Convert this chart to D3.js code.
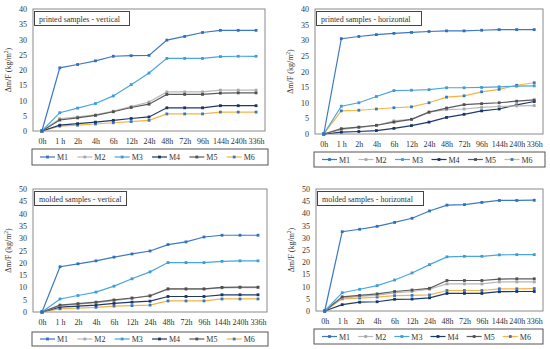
<!DOCTYPE html>
<html>
<head>
<meta charset="utf-8">
<script src="https://cdn.jsdelivr.net/npm/d3@7"></script>
<style>
  body { margin: 0; background: #fff; }
  text { font-family: "Liberation Serif", "DejaVu Serif", serif; fill: #333; }
</style>
</head>
<body>
<script>
// time points and series names
var hours = ["0h", "1 h", "2h", "4h", "6h", "12h", "24h", "48h", "72h", "96h", "144h", "240h", "336h"];
var seriesNames = ["M1", "M2", "M3", "M4", "M5", "M6"];
var lineColors = ["#3b78c6", "#b8b8b8", "#4aa6de", "#1d3a6e", "#5b5b5b", "#f6b244"];
var markerColors = ["#2f6fc0", "#a8a8a8", "#3d9cd8", "#1a3466", "#4f4f4f", "#2f79c8"];

// values, one row per series M1..M6
var printedVertical = [
  [0, 20.7, 21.8, 23.0, 24.5, 24.7, 24.8, 29.8, 31.0, 32.3, 33.0, 33.0, 33.0],
  [0, 4.0, 4.6, 5.3, 6.5, 8.0, 9.5, 12.8, 12.8, 12.8, 13.4, 13.4, 13.4],
  [0, 6.0, 7.5, 9.0, 11.5, 15.2, 19.0, 23.8, 23.8, 23.8, 24.4, 24.5, 24.5],
  [0, 1.9, 2.4, 2.9, 3.5, 4.1, 4.6, 7.6, 7.6, 7.6, 8.3, 8.3, 8.3],
  [0, 3.6, 4.3, 5.1, 6.3, 7.7, 8.8, 12.0, 12.0, 12.0, 12.4, 12.5, 12.5],
  [0, 1.6, 1.9, 2.3, 2.7, 3.1, 3.5, 5.6, 5.6, 5.6, 6.2, 6.2, 6.2]
];
var printedHorizontal = [
  [0, 30.5, 31.2, 31.8, 32.2, 32.5, 32.8, 33.0, 33.0, 33.2, 33.4, 33.4, 33.4],
  [0, 1.4, 2.1, 2.7, 4.2, 4.7, 7.0, 7.8, 8.0, 8.5, 8.8, 9.0, 9.1],
  [0, 8.9, 10.0, 12.0, 13.9, 14.0, 14.2, 14.8, 14.8, 14.9, 15.1, 15.3, 15.4],
  [0, 0.6, 0.8, 1.1, 1.8, 2.7, 3.8, 5.3, 6.3, 7.4, 8.0, 9.3, 10.4],
  [0, 1.7, 2.2, 2.8, 3.8, 4.7, 7.0, 8.3, 9.4, 9.7, 10.0, 10.5, 10.9],
  [0, 7.4, 7.6, 8.0, 8.4, 8.7, 10.0, 11.8, 12.2, 13.5, 14.3, 15.6, 16.4]
];
var moldedVertical = [
  [0, 18.4, 19.6, 20.8, 22.3, 23.6, 24.8, 27.4, 28.5, 30.5, 31.2, 31.2, 31.2],
  [0, 2.6, 3.2, 3.8, 4.6, 5.5, 6.8, 9.3, 9.3, 9.3, 9.8, 9.9, 9.9],
  [0, 5.3, 6.7, 8.1, 10.5, 13.5, 16.3, 20.1, 20.1, 20.1, 20.6, 20.8, 20.8],
  [0, 2.0, 2.4, 2.8, 3.5, 4.0, 4.4, 6.3, 6.3, 6.3, 7.0, 7.0, 7.0],
  [0, 2.8, 3.4, 4.0, 4.9, 5.7, 6.5, 9.4, 9.4, 9.4, 10.0, 10.1, 10.1],
  [0, 1.3, 1.6, 1.9, 2.4, 2.6, 2.8, 4.5, 4.5, 4.5, 5.3, 5.3, 5.3]
];
var moldedHorizontal = [
  [0, 32.5, 33.5, 34.7, 36.3, 38.0, 41.0, 43.4, 43.6, 44.5, 45.3, 45.3, 45.4],
  [0, 5.3, 6.0, 6.5, 7.4, 8.0, 8.9, 11.1, 11.1, 11.1, 11.9, 11.9, 11.9],
  [0, 7.5, 8.9, 10.4, 12.7, 15.6, 19.0, 22.2, 22.4, 22.4, 23.0, 23.1, 23.1],
  [0, 2.6, 3.6, 3.8, 4.8, 4.9, 5.4, 7.2, 7.2, 7.2, 7.9, 8.0, 8.0],
  [0, 5.8, 6.4, 7.0, 8.0, 8.6, 9.3, 12.5, 12.5, 12.5, 13.1, 13.2, 13.2],
  [0, 5.0, 5.3, 5.7, 6.3, 6.4, 6.6, 8.4, 8.4, 8.4, 9.1, 9.1, 9.2]
];

var panels = [
  {title: "printed samples - vertical", data: printedVertical, yMax: 40,
   plot: {x0: 33, x1: 265, y0: 9, y1: 131}, legend: {x: 32, y: 149, w: 236, h: 16}, titleW: 95},
  {title: "printed samples - horizontal", data: printedHorizontal, yMax: 40,
   plot: {x0: 315, x1: 543, y0: 9, y1: 134}, legend: {x: 314, y: 152, w: 231, h: 15}, titleW: 105},
  {title: "molded samples - vertical", data: moldedVertical, yMax: 50,
   plot: {x0: 33, x1: 267, y0: 189, y1: 312}, legend: {x: 32, y: 332, w: 236, h: 14}, titleW: 92},
  {title: "molded samples - horizontal", data: moldedHorizontal, yMax: 50,
   plot: {x0: 316, x1: 543, y0: 189, y1: 311}, legend: {x: 314, y: 329, w: 229, h: 15}, titleW: 106}
];

var svg = d3.select("body").append("svg")
  .attr("width", 550)
  .attr("height", 349);

panels.forEach(function(p) {
  var g = svg.append("g");

  var x = d3.scalePoint()
    .domain(hours)
    .range([p.plot.x0, p.plot.x1])
    .padding(0.5);

  var y = d3.scaleLinear()
    .domain([0, p.yMax])
    .range([p.plot.y1, p.plot.y0]);

  // plot frame
  g.append("rect")
    .attr("x", p.plot.x0)
    .attr("y", p.plot.y0)
    .attr("width", p.plot.x1 - p.plot.x0)
    .attr("height", p.plot.y1 - p.plot.y0)
    .attr("fill", "none")
    .attr("stroke", "#8a8a8a")
    .attr("stroke-width", 1);

  // y axis
  var yAxis = g.append("g")
    .attr("transform", "translate(" + p.plot.x0 + ",0)")
    .call(d3.axisLeft(y).ticks(p.yMax / 5).tickSize(0).tickPadding(6));
  yAxis.select(".domain").remove();
  yAxis.selectAll("text").style("font-size", "8px").style("font-family", "Liberation Serif").attr("fill", "#333");

  // x axis
  var xAxis = g.append("g")
    .attr("transform", "translate(0," + p.plot.y1 + ")")
    .call(d3.axisBottom(x).tickSize(0).tickPadding(7));
  xAxis.select(".domain").remove();
  xAxis.selectAll("text").style("font-size", "8px").style("font-family", "Liberation Serif").attr("fill", "#333");

  // y label
  var lbl = g.append("text")
    .attr("transform", "translate(" + (p.plot.x0 - 22) + "," + ((p.plot.y0 + p.plot.y1) / 2) + ") rotate(-90)")
    .attr("text-anchor", "middle")
    .style("font-size", "8px");
  lbl.append("tspan").text("\u0394m/F (kg/m");
  lbl.append("tspan").attr("dy", -3).style("font-size", "5.5px").text("2");
  lbl.append("tspan").attr("dy", 3).text(")");

  // lines, drawn M1 last so it sits on top like the original
  var line = d3.line()
    .x(function(d, i) { return x(hours[i]); })
    .y(function(d) { return y(d); });

  var order = [5, 3, 1, 4, 2, 0];
  order.forEach(function(k) {
    g.append("path")
      .datum(p.data[k])
      .attr("d", line)
      .attr("fill", "none")
      .attr("stroke", lineColors[k])
      .attr("stroke-width", 1.2);

    g.selectAll(".m" + k)
      .data(p.data[k])
      .enter()
      .append("rect")
        .attr("class", "m" + k)
        .attr("x", function(d, i) { return x(hours[i]) - 1.4; })
        .attr("y", function(d) { return y(d) - 1.4; })
        .attr("width", 2.8)
        .attr("height", 2.8)
        .attr("fill", markerColors[k]);
  });

  // title box
  g.append("rect")
    .attr("x", p.plot.x0 + 1.5)
    .attr("y", p.plot.y0 + 2.5)
    .attr("width", p.titleW)
    .attr("height", 14)
    .attr("fill", "#fff")
    .attr("stroke", "#444")
    .attr("stroke-width", 1);
  g.append("text")
    .attr("x", p.plot.x0 + 6)
    .attr("y", p.plot.y0 + 12.5)
    .style("font-size", "8px")
    .attr("fill", "#222")
    .text(p.title);

  // legend box
  g.append("rect")
    .attr("x", p.legend.x)
    .attr("y", p.legend.y)
    .attr("width", p.legend.w)
    .attr("height", p.legend.h)
    .attr("fill", "#fff")
    .attr("stroke", "#555")
    .attr("stroke-width", 1);

  var step = (p.legend.w - 12) / seriesNames.length;
  var ly = p.legend.y + p.legend.h / 2;
  seriesNames.forEach(function(name, k) {
    var lx = p.legend.x + 8 + k * step;
    g.append("line")
      .attr("x1", lx).attr("x2", lx + 15)
      .attr("y1", ly).attr("y2", ly)
      .attr("stroke", lineColors[k])
      .attr("stroke-width", 1.2);
    g.append("rect")
      .attr("x", lx + 7.5 - 1.4).attr("y", ly - 1.4)
      .attr("width", 2.8).attr("height", 2.8)
      .attr("fill", markerColors[k]);
    g.append("text")
      .attr("x", lx + 17)
      .attr("y", ly + 3)
      .style("font-size", "8px")
      .text(name);
  });
});
</script>
</body>
</html>
